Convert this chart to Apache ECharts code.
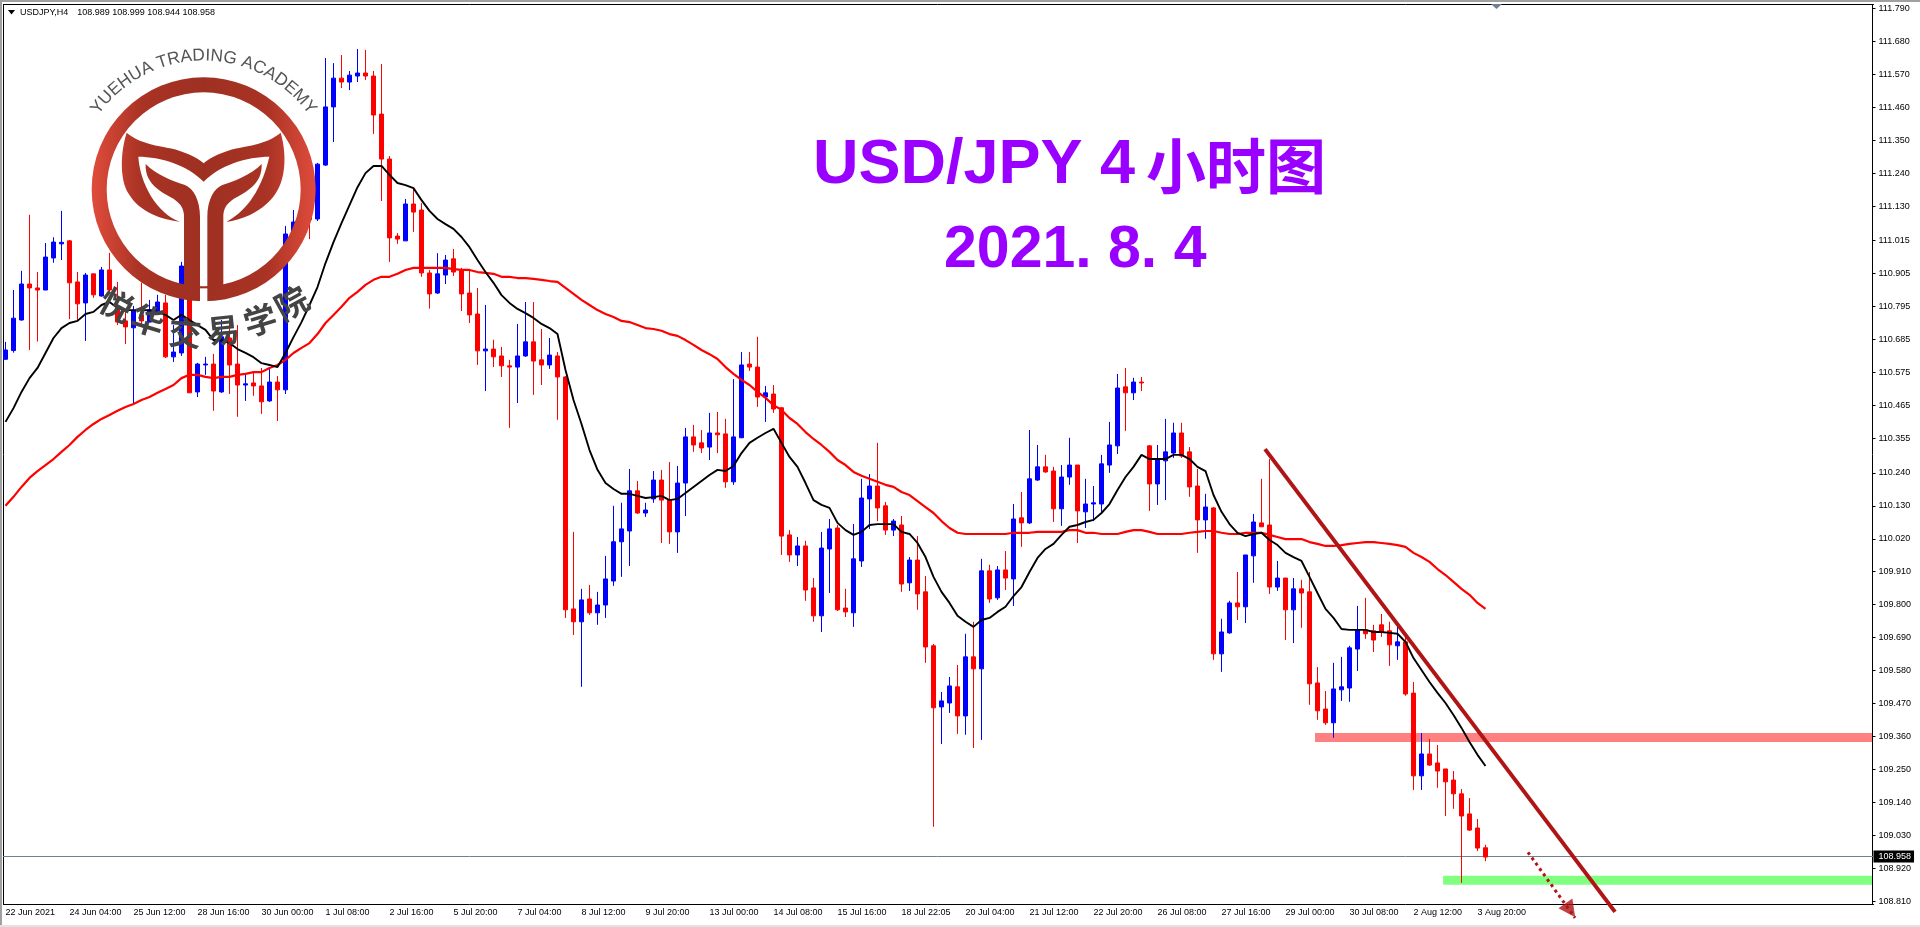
<!DOCTYPE html>
<html><head><meta charset="utf-8"><style>html,body{margin:0;padding:0;background:#fff}#c{width:1920px;height:927px}</style>
<script src="https://cdn.jsdelivr.net/npm/echarts@6/dist/echarts.min.js"></script></head><body><div id="c"></div>
<script>
const tickLabels=['22 Jun 2021','24 Jun 04:00','25 Jun 12:00','28 Jun 16:00','30 Jun 00:00','1 Jul 08:00','2 Jul 16:00','5 Jul 20:00','7 Jul 04:00','8 Jul 12:00','9 Jul 20:00','13 Jul 00:00','14 Jul 08:00','15 Jul 16:00','18 Jul 22:05','20 Jul 04:00','21 Jul 12:00','22 Jul 20:00','26 Jul 08:00','27 Jul 16:00','29 Jul 00:00','30 Jul 08:00','2 Aug 12:00','3 Aug 20:00'];
const priceTicks=[111.790,111.680,111.570,111.460,111.350,111.240,111.130,111.015,110.905,110.795,110.685,110.575,110.465,110.355,110.240,110.130,110.020,109.910,109.800,109.690,109.580,109.470,109.360,109.250,109.140,109.030,108.920,108.810];
const opens=[110.619,110.648,110.750,110.870,110.857,110.850,110.957,111.004,111.014,110.877,110.807,110.904,110.830,110.917,110.784,110.747,110.724,110.767,110.743,110.777,110.807,110.627,110.640,110.817,110.510,110.600,110.603,110.510,110.690,110.603,110.533,110.540,110.530,110.480,110.543,110.517,111.034,111.084,111.107,111.087,111.267,111.461,111.557,111.544,111.564,111.574,111.564,111.437,111.287,111.030,111.014,111.137,111.117,110.907,110.840,110.900,110.954,110.914,110.840,110.770,110.647,110.653,110.630,110.597,110.593,110.630,110.677,110.617,110.600,110.630,110.560,109.786,109.743,109.819,109.773,109.799,109.879,110.010,110.046,110.180,110.106,110.153,110.216,110.149,110.043,110.206,110.360,110.340,110.326,110.373,110.370,110.210,110.357,110.603,110.593,110.493,110.503,110.457,110.033,109.966,109.996,109.856,109.763,109.986,110.056,109.789,109.773,109.946,110.153,110.196,110.130,110.049,110.066,109.873,109.949,109.843,109.663,109.459,109.472,109.526,109.429,109.626,109.586,109.913,109.823,109.916,109.886,110.090,110.073,110.216,110.260,110.246,110.120,110.226,110.266,110.110,110.136,110.136,110.266,110.330,110.527,110.507,110.543,110.330,110.203,110.280,110.306,110.373,110.310,110.196,110.083,110.123,109.636,109.706,109.806,109.793,109.963,110.073,110.066,109.859,109.889,109.783,109.853,109.843,109.539,109.452,109.406,109.516,109.522,109.652,109.716,109.713,109.733,109.713,109.663,109.676,109.505,109.229,109.302,109.272,109.252,109.215,109.169,109.102,109.055,108.989];
const highs=[110.677,110.850,110.914,111.101,110.910,111.007,111.026,111.114,111.017,110.910,110.907,110.904,110.927,110.974,110.877,110.784,110.797,110.874,110.817,110.834,110.834,110.733,110.944,110.840,110.607,110.627,110.637,110.750,110.750,110.733,110.573,110.577,110.590,110.593,110.563,111.064,111.117,111.107,111.150,111.274,111.624,111.607,111.634,111.581,111.654,111.651,111.581,111.604,111.297,111.040,111.154,111.190,111.140,110.917,110.973,110.967,110.987,110.924,110.914,110.857,110.800,110.684,110.660,110.617,110.737,110.810,110.810,110.720,110.690,110.643,110.563,110.043,109.853,109.866,109.843,109.963,110.130,110.140,110.253,110.213,110.140,110.246,110.250,110.276,110.263,110.390,110.400,110.383,110.440,110.443,110.420,110.553,110.643,110.643,110.694,110.530,110.533,110.460,110.049,110.026,110.013,109.889,110.043,110.086,110.066,109.853,110.069,110.220,110.236,110.340,110.143,110.086,110.096,109.959,110.029,109.896,109.669,109.509,109.559,109.599,109.703,109.743,109.953,109.933,109.929,109.979,110.136,110.176,110.383,110.333,110.300,110.260,110.266,110.357,110.266,110.220,110.196,110.300,110.410,110.570,110.590,110.557,110.560,110.333,110.333,110.420,110.407,110.407,110.326,110.253,110.170,110.126,109.753,109.813,109.909,109.966,110.103,110.220,110.286,109.946,109.889,109.889,109.883,109.909,109.592,109.512,109.606,109.626,109.663,109.796,109.823,109.733,109.769,109.743,109.729,109.699,109.542,109.372,109.352,109.332,109.252,109.245,109.185,109.155,109.085,108.999];
const lows=[110.617,110.641,110.748,110.650,110.678,110.850,110.941,110.950,110.753,110.750,110.680,110.824,110.828,110.840,110.733,110.670,110.473,110.733,110.743,110.767,110.623,110.610,110.630,110.507,110.493,110.567,110.447,110.507,110.503,110.427,110.480,110.497,110.437,110.477,110.413,110.503,111.030,111.027,111.020,111.080,111.264,111.344,111.524,111.517,111.544,111.551,111.371,111.147,110.944,111.004,111.014,111.044,110.894,110.788,110.837,110.870,110.897,110.780,110.740,110.600,110.513,110.593,110.560,110.390,110.473,110.627,110.500,110.533,110.587,110.417,109.756,109.699,109.526,109.766,109.733,109.756,109.863,109.893,109.929,110.103,110.093,110.140,110.006,110.003,109.973,110.096,110.310,110.306,110.283,110.306,110.190,110.200,110.357,110.580,110.460,110.410,110.440,109.966,109.943,109.929,109.813,109.743,109.709,109.839,109.779,109.759,109.726,109.926,110.053,110.079,110.033,110.029,109.843,109.846,109.783,109.606,109.059,109.335,109.439,109.369,109.366,109.322,109.349,109.806,109.816,109.849,109.796,109.993,110.069,110.213,110.240,110.076,110.063,110.200,110.006,110.056,110.079,110.110,110.240,110.303,110.380,110.483,110.513,110.113,110.133,110.149,110.290,110.290,110.160,109.973,110.020,109.616,109.576,109.703,109.749,109.739,109.873,110.060,109.836,109.846,109.682,109.672,109.723,109.466,109.416,109.399,109.356,109.479,109.476,109.579,109.686,109.642,109.693,109.596,109.616,109.496,109.182,109.182,109.262,109.189,109.095,109.119,108.872,109.045,108.978,108.944];
const closes=[110.650,110.756,110.870,110.857,110.850,110.960,111.010,111.009,110.874,110.804,110.900,110.834,110.917,110.850,110.743,110.727,110.780,110.747,110.784,110.810,110.627,110.643,110.930,110.507,110.603,110.603,110.513,110.694,110.600,110.533,110.537,110.530,110.477,110.543,110.517,111.037,111.077,111.050,111.084,111.270,111.461,111.557,111.544,111.567,111.574,111.564,111.434,111.287,111.024,111.020,111.137,111.110,110.907,110.837,110.904,110.950,110.910,110.837,110.767,110.647,110.653,110.627,110.597,110.593,110.630,110.677,110.613,110.600,110.633,110.560,109.783,109.743,109.816,109.773,109.799,109.886,110.010,110.053,110.180,110.106,110.116,110.216,110.149,110.043,110.206,110.360,110.333,110.323,110.373,110.367,110.210,110.360,110.600,110.593,110.493,110.507,110.453,110.029,109.966,109.996,109.849,109.763,109.989,110.053,109.783,109.776,109.953,110.156,110.196,110.123,110.049,110.079,109.869,109.949,109.836,109.659,109.456,109.479,109.529,109.429,109.626,109.586,109.913,109.819,109.916,109.889,110.086,110.073,110.220,110.260,110.243,110.120,110.226,110.266,110.113,110.136,110.140,110.270,110.333,110.523,110.507,110.543,110.540,110.203,110.286,110.310,110.373,110.296,110.193,110.083,110.126,109.636,109.709,109.806,109.793,109.966,110.076,110.060,109.859,109.889,109.783,109.853,109.839,109.536,109.446,109.406,109.519,109.526,109.656,109.716,109.703,109.682,109.709,109.666,109.676,109.502,109.229,109.302,109.265,109.245,109.209,109.169,109.095,109.048,108.988,108.958];
const fastMA=[110.410,110.456,110.510,110.556,110.590,110.640,110.690,110.723,110.740,110.747,110.770,110.777,110.800,110.810,110.790,110.783,110.783,110.783,110.783,110.777,110.767,110.750,110.767,110.750,110.733,110.717,110.683,110.683,110.673,110.653,110.640,110.626,110.606,110.600,110.593,110.640,110.693,110.743,110.800,110.860,110.940,111.010,111.073,111.133,111.193,111.240,111.264,111.264,111.234,111.207,111.200,111.190,111.150,111.114,111.087,111.070,111.054,111.027,110.993,110.950,110.910,110.874,110.833,110.807,110.787,110.773,110.757,110.737,110.723,110.703,110.583,110.483,110.403,110.316,110.250,110.206,110.186,110.170,110.170,110.163,110.156,110.159,110.163,110.149,110.153,110.173,110.193,110.213,110.233,110.250,110.246,110.263,110.306,110.340,110.357,110.373,110.387,110.340,110.293,110.260,110.206,110.149,110.133,110.123,110.073,110.049,110.033,110.043,110.066,110.069,110.069,110.069,110.043,110.036,110.006,109.959,109.893,109.843,109.806,109.763,109.743,109.726,109.749,109.756,109.776,109.793,109.829,109.859,109.909,109.956,109.986,110.003,110.033,110.060,110.066,110.076,110.083,110.106,110.136,110.183,110.226,110.260,110.300,110.286,110.286,110.286,110.300,110.300,110.286,110.260,110.246,110.166,110.110,110.069,110.040,110.029,110.036,110.040,110.016,109.999,109.973,109.959,109.946,109.893,109.839,109.786,109.756,109.719,109.716,109.716,109.716,109.709,109.709,109.706,109.703,109.676,109.622,109.582,109.542,109.506,109.472,109.432,109.389,109.342,109.299,109.262];
const slowMA=[110.130,110.160,110.193,110.223,110.246,110.266,110.286,110.310,110.333,110.360,110.383,110.403,110.420,110.433,110.447,110.460,110.470,110.483,110.493,110.507,110.520,110.533,110.556,110.567,110.567,110.560,110.556,110.560,110.560,110.567,110.570,110.576,110.576,110.590,110.600,110.617,110.640,110.657,110.673,110.703,110.740,110.767,110.794,110.824,110.844,110.867,110.884,110.894,110.894,110.904,110.917,110.924,110.924,110.924,110.924,110.924,110.920,110.917,110.917,110.910,110.907,110.904,110.894,110.894,110.890,110.890,110.887,110.884,110.880,110.877,110.857,110.837,110.817,110.800,110.783,110.770,110.760,110.747,110.743,110.733,110.723,110.720,110.714,110.703,110.697,110.683,110.667,110.650,110.636,110.620,110.593,110.570,110.550,110.533,110.510,110.490,110.466,110.450,110.423,110.403,110.376,110.353,110.333,110.310,110.283,110.266,110.243,110.230,110.220,110.210,110.200,110.193,110.176,110.166,110.146,110.126,110.106,110.079,110.056,110.040,110.036,110.036,110.036,110.036,110.036,110.036,110.040,110.040,110.040,110.043,110.043,110.043,110.043,110.049,110.049,110.040,110.040,110.036,110.036,110.036,110.043,110.049,110.049,110.043,110.036,110.036,110.036,110.036,110.040,110.043,110.046,110.046,110.040,110.036,110.036,110.040,110.040,110.040,110.033,110.026,110.019,110.019,110.019,110.009,110.003,109.996,109.996,109.999,110.003,110.006,110.009,110.009,110.006,110.003,109.999,109.993,109.973,109.959,109.943,109.919,109.899,109.876,109.853,109.833,109.806,109.786];
const lastPrice=108.958;
const resistanceZone=[163.69,233.31,109.372,109.342];
const supportZone=[179.7,233.31,108.896,108.866];
const trendLine=[[157.44,110.319],[201.19,108.775]];
const arrowLine=[[190.31,108.974],[196.19,108.755]];
const arrowHead=[[195.6,108.780]];
const slots=234;
const categories=Array.from({length:slots},(_,i)=>i%8===0&&tickLabels[i/8]?tickLabels[i/8]:'');
const candles=opens.map((o,i)=>[o,closes[i],lows[i],highs[i]]);
const isTick=i=>i%8===0&&i<=184;
const axisFont={fontFamily:'Liberation Sans',fontSize:9,color:'#000'};
const yMin=108.7997,yMax=111.8027;
const logoFill={type:'linear',x:95,y:0,x2:767,y2:0,global:true,colorStops:[{offset:0,color:'#e04c3c'},{offset:.22,color:'#a93324'},{offset:.5,color:'#9e3022'},{offset:.78,color:'#a93324'},{offset:1,color:'#e04c3c'}]};
echarts.graphic.registerShape('logoTail',echarts.graphic.extendPath('M200 278C240 312 300 318 330 325C375 335 410 352 431 370C452 352 487 335 532 325C562 318 622 312 662 278C680 340 680 420 640 470C600 520 540 540 500 545C545 520 600 470 628 350C560 350 480 375 431 425C382 375 302 350 235 350C240 430 290 520 360 545C310 540 240 520 205 460C180 420 180 340 200 278Z',{}));
echarts.graphic.registerShape('logoLeafL',echarts.graphic.extendPath('M257 372C290 405 340 425 375 435C400 445 420 480 420 530L420 775L372 775L372 525C370 495 350 480 320 465C285 445 255 420 257 372Z',{}));
echarts.graphic.registerShape('logoLeafR',echarts.graphic.extendPath('M605 372C572 405 522 425 487 435C462 445 442 480 442 530L442 775L490 775L490 525C492 495 512 480 542 465C577 445 607 420 605 372Z',{}));
const arcText='YUEHUA TRADING ACADEMY';
const cv=document.createElement('canvas').getContext('2d');cv.font='52px "Liberation Sans"';
const arcW=cv.measureText(arcText).width, arcR=385, arcChars=[];
{let run=0;for(const ch of arcText){const w=cv.measureText(ch).width;const a=(run+w/2-arcW/2)/arcR;arcChars.push({type:'text',x:431+(arcR+16)*Math.sin(a),y:448-(arcR+16)*Math.cos(a),rotation:-a,style:{text:ch,font:'52px "Liberation Sans"',fill:'#555',align:'center',verticalAlign:'middle'}});run+=w;}}
const cnChars=[['悦',116.7,305,28],['华',148,320,17],['交',185,333,5],['易',223,330,-6],['学',260,320,-17],['院',291.7,303,-29]].map(c=>({type:'text',x:c[1],y:c[2],rotation:-c[3]*Math.PI/180,style:{text:c[0],font:'bold 33px "Noto Sans CJK SC"',fill:'#444',align:'center',verticalAlign:'middle'}}));
const chart=echarts.init(document.getElementById('c'),null,{renderer:'canvas'});
chart.setOption({animation:false,backgroundColor:'#fff',
grid:{left:1.5,top:4.5,width:1872,height:900,containLabel:false},
xAxis:[{type:'category',data:categories,boundaryGap:true,position:'bottom',axisLine:{lineStyle:{color:'#000',width:1}},axisTick:{alignWithLabel:true,length:2,interval:isTick,lineStyle:{color:'#000'}},axisLabel:Object.assign({interval:isTick,align:'left',margin:4,hideOverlap:false,showMinLabel:true,showMaxLabel:true},axisFont),splitLine:{show:false}},
{type:'value',min:-0.5,max:233.5,position:'top',axisLine:{show:true,onZero:false,lineStyle:{color:'#000',width:1}},axisTick:{show:false},axisLabel:{show:false},splitLine:{show:false}}],
yAxis:[{type:'value',position:'right',offset:-1,min:yMin,max:yMax,scale:true,axisLine:{show:true,onZero:false,lineStyle:{color:'#000',width:1}},axisTick:{show:true,length:3,customValues:priceTicks,lineStyle:{color:'#000'}},axisLabel:Object.assign({customValues:priceTicks,margin:6,showMinLabel:true,showMaxLabel:true,formatter:v=>v.toFixed(3)},axisFont),splitLine:{show:false}},
{type:'value',position:'left',offset:-2,min:yMin,max:yMax,scale:true,axisLine:{show:true,onZero:false,lineStyle:{color:'#000',width:1}},axisTick:{show:false},axisLabel:{show:false},splitLine:{show:false}}],
series:[
{name:'zones',type:'line',xAxisIndex:1,yAxisIndex:0,data:[],z:1,silent:true,markArea:{silent:true,z:1,data:[
[{coord:[resistanceZone[0],resistanceZone[2]],itemStyle:{color:'#ff8080'}},{coord:[resistanceZone[1],resistanceZone[3]]}],
[{coord:[supportZone[0],supportZone[2]],itemStyle:{color:'#80ff80'}},{coord:[supportZone[1],supportZone[3]]}]]}},
{name:'USDJPY,H4',type:'candlestick',xAxisIndex:0,yAxisIndex:0,data:candles,barWidth:4,clip:false,z:2,itemStyle:{color:'#0000ff',color0:'#ff0000',borderColor:'#0000ff',borderColor0:'#ff0000',borderWidth:1},
markLine:{silent:true,symbol:'none',z:1,lineStyle:{color:'#708090',width:1,type:'solid'},label:{position:'end',distance:0,formatter:()=>lastPrice.toFixed(3),backgroundColor:'#000',color:'#fff',fontFamily:'Liberation Sans',fontSize:9,padding:[2,3,1,5]},data:[{yAxis:lastPrice}]}},
{name:'MA slow',type:'line',xAxisIndex:0,yAxisIndex:0,data:slowMA,showSymbol:false,z:3,lineStyle:{color:'#ff0000',width:2.2}},
{name:'MA fast',type:'line',xAxisIndex:0,yAxisIndex:0,data:fastMA,showSymbol:false,z:3,lineStyle:{color:'#000',width:1.9}},
{name:'trend',type:'line',xAxisIndex:1,yAxisIndex:0,data:trendLine,clip:false,showSymbol:false,z:4,lineStyle:{color:'#b01414',width:4}},
{name:'arrow',type:'line',xAxisIndex:1,yAxisIndex:0,data:arrowLine,clip:false,showSymbol:false,z:4,lineStyle:{color:'#b01414',width:3,type:[3,3.6]}},
{name:'arrowHead',type:'scatter',xAxisIndex:1,yAxisIndex:0,data:arrowHead,clip:false,symbol:'triangle',symbolSize:[17,17],symbolRotate:-145,z:4,itemStyle:{color:'#b01414'}}
],
graphic:{elements:[
{type:'rect',z:50,shape:{x:0,y:0,width:3,height:927},style:{fill:'#fff'}},
{type:'rect',z:51,shape:{x:0,y:0,width:2,height:927},style:{fill:'#a0a0a0'}},
{type:'rect',z:51,shape:{x:0,y:0,width:1920,height:2},style:{fill:'#a0a0a0'}},
{type:'rect',z:51,shape:{x:0,y:925,width:1920,height:2},style:{fill:'#e4e4e4'}},
{type:'polygon',z:52,shape:{points:[[8,10],[15,10],[11.5,14.5]]},style:{fill:'#000'}},
{type:'polygon',z:52,shape:{points:[[1491,4],[1502,4],[1496.5,9]]},style:{fill:'#708090'}},
{type:'text',z:52,x:20,y:12.5,style:{text:'USDJPY,H4',font:'9px "Liberation Sans"',fill:'#000',verticalAlign:'middle'}},
{type:'text',z:52,x:77.3,y:12.5,style:{text:'108.989 108.999 108.944 108.958',font:'9px "Liberation Sans"',fill:'#000',verticalAlign:'middle'}},
{type:'text',z:60,x:813,y:166,style:{text:'USD/JPY 4',font:'bold 63px "Liberation Sans"',fill:'#9900ff',verticalAlign:'middle'}},
{type:'text',z:60,x:1146,y:166,style:{text:'小时图',font:'bold 60px "Noto Sans CJK SC"',fill:'#9900ff',verticalAlign:'middle'}},
{type:'text',z:60,x:944,y:251,style:{text:'2021. 8. 4',font:'bold 59px "Liberation Sans"',fill:'#9900ff',verticalAlign:'middle'}},
{type:'group',z:70,x:60,y:40,scaleX:1/3,scaleY:1/3,children:[
{type:'ring',z:70,shape:{cx:431,cy:448,r:336,r0:291},style:{fill:logoFill}},
{type:'logoTail',z:70,shape:{},style:{fill:logoFill}},
{type:'logoLeafL',z:70,shape:{},style:{fill:logoFill}},
{type:'logoLeafR',z:70,shape:{},style:{fill:logoFill}},
{type:'rect',z:71,shape:{x:420,y:745,width:22,height:45},style:{fill:'#fff'}}
].concat(arcChars.map(c=>Object.assign(c,{z:71})))},
{type:'group',z:72,children:cnChars.map(c=>Object.assign(c,{z:72}))}
]}
});
</script></body></html>
